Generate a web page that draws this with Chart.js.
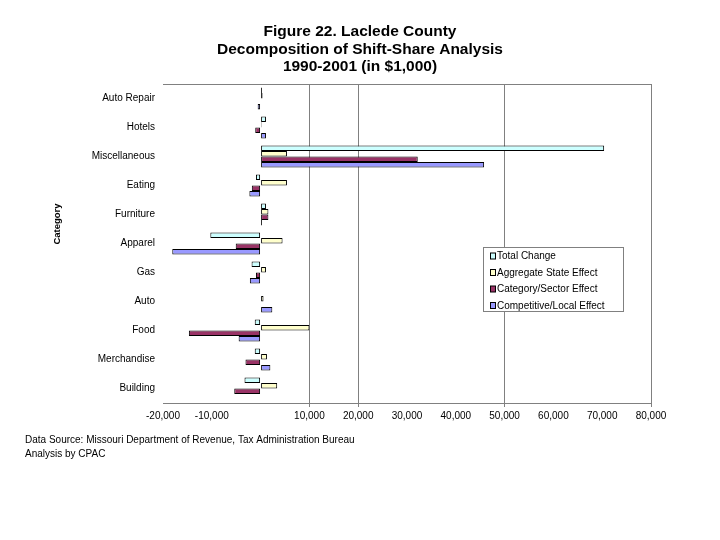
<!DOCTYPE html>
<html lang="en">
<head>
<meta charset="UTF-8">
<title>Figure 22. Laclede County</title>
<style>
    html, body {
        margin: 0;
        padding: 0;
        background: #fff;
    }
    #wrap {
        width: 720px;
        height: 540px;
    }
</style>
</head>
<body>
<div id="wrap"><canvas id="shiftShare" width="720" height="540"></canvas></div>

<script src="https://cdn.jsdelivr.net/npm/chart.js"></script>
<script>
    // data (in $1,000)
    const categories = ['Auto Repair', 'Hotels', 'Miscellaneous', 'Eating', 'Furniture', 'Apparel',
                        'Gas', 'Auto', 'Food', 'Merchandise', 'Building'];
    const totalChange      = [300, 1100, 70400, -950, 1100, -10300, -1850, 100, -1200, -1200, -3300];
    const aggregateState   = [400, 200, 5400, 5400, 1600, 4500, 1100, 600, 10000, 1300, 3400];
    const categorySector   = [100, -1100, 32200, -1800, 1600, -5100, -950, -100, -14700, -3100, -5400];
    const competitiveLocal = [-600, 1100, 45800, -2300, 300, -18100, -2200, 2400, -4500, 2000, 0];

    const seriesNames = ['Total Change', 'Aggregate State Effect', 'Category/Sector Effect', 'Competitive/Local Effect'];
    const xMin = -20000, xMax = 80000, xStep = 10000;
    const gridValues = [10000, 20000, 50000, 80000];   // only these get a vertical line
    const hiddenTickLabels = [0];

    const titleLines = ['Figure 22. Laclede County', 'Decomposition of Shift-Share Analysis', '1990-2001 (in $1,000)'];
    const footerLines = ['Data Source: Missouri Department of Revenue, Tax Administration Bureau', 'Analysis by CPAC'];

    const FONT = '"Liberation Sans", Arial, sans-serif';
    Chart.defaults.font.family = FONT;
    Chart.defaults.color = '#000';

    // title, footer, axis title, legend and top frame line
    const decorations = {
        id: 'decorations',
        afterDraw(chart) {
            const { ctx, chartArea: a } = chart;
            ctx.save();

            ctx.strokeStyle = '#808080';
            ctx.lineWidth = 1;
            ctx.beginPath();
            ctx.moveTo(a.left, a.top + 0.5);
            ctx.lineTo(a.right, a.top + 0.5);
            ctx.stroke();

            ctx.fillStyle = '#000';
            ctx.textAlign = 'center';
            ctx.textBaseline = 'alphabetic';
            ctx.font = 'bold 15.5px ' + FONT;
            titleLines.forEach((t, i) => ctx.fillText(t, 360, 36 + i * 17.5));

            ctx.textAlign = 'left';
            ctx.font = '10px ' + FONT;
            footerLines.forEach((t, i) => ctx.fillText(t, 25, 443 + i * 14));

            ctx.save();
            ctx.translate(60, 224);
            ctx.rotate(-Math.PI / 2);
            ctx.textAlign = 'center';
            ctx.font = 'bold 9.5px ' + FONT;
            ctx.fillText('Category', 0, 0);
            ctx.restore();

            // legend box
            const lx = 483.5, ly = 247.5, lw = 140, lh = 64;
            ctx.fillStyle = '#fff';
            ctx.fillRect(lx, ly, lw, lh);
            ctx.strokeStyle = '#808080';
            ctx.strokeRect(lx, ly, lw, lh);
            ctx.font = '10px ' + FONT;
            ctx.textBaseline = 'middle';
            chart.data.datasets.forEach((ds, i) => {
                const cy = 256 + i * 16.5;
                ctx.fillStyle = ds.backgroundColor;
                ctx.fillRect(490.5, cy - 3, 5, 6);
                ctx.strokeStyle = '#000';
                ctx.strokeRect(490.5, cy - 3, 5, 6);
                ctx.fillStyle = '#000';
                ctx.fillText(ds.label, 497, cy + 0.5);
            });

            ctx.restore();
        }
    };

    const colors = ['#CCFFFF', '#FFFFCC', '#993366', '#9999FF'];
    const values = [totalChange, aggregateState, categorySector, competitiveLocal];

    const chart = new Chart(document.getElementById('shiftShare'), {
        type: 'bar',
        data: {
            labels: categories,
            datasets: values.map((v, i) => ({
                label: seriesNames[i],
                data: v,
                backgroundColor: colors[i],
                borderColor: '#000',
                borderWidth: 1,
                borderSkipped: false,
                categoryPercentage: 0.76,
                barPercentage: 1.0
            }))
        },
        options: {
            responsive: false,
            animation: false,
            indexAxis: 'y',
            layout: { padding: { left: 50, top: 84, right: 69, bottom: 107 } },
            plugins: {
                legend: { display: false },
                title: { display: false },
                tooltip: { enabled: false }
            },
            scales: {
                x: {
                    min: xMin,
                    max: xMax,
                    ticks: {
                        stepSize: xStep,
                        autoSkip: false,
                        maxRotation: 0,
                        padding: 3,
                        font: { size: 10 },
                        callback: v => hiddenTickLabels.includes(v) ? '' : v.toLocaleString('en-US')
                    },
                    grid: {
                        tickLength: 4,
                        color: c => (c.tick && gridValues.includes(c.tick.value)) ? '#808080' : 'rgba(0,0,0,0)'
                    },
                    border: { display: true, color: '#808080' },
                    afterFit: s => { s.height = 30; }
                },
                y: {
                    ticks: { padding: 8, font: { size: 10 } },
                    grid: { display: false, drawTicks: false },
                    border: { display: false },
                    afterFit: s => { s.width = 163 - 50; }
                }
            }
        },
        plugins: [decorations]
    });
</script>
</body>
</html>
